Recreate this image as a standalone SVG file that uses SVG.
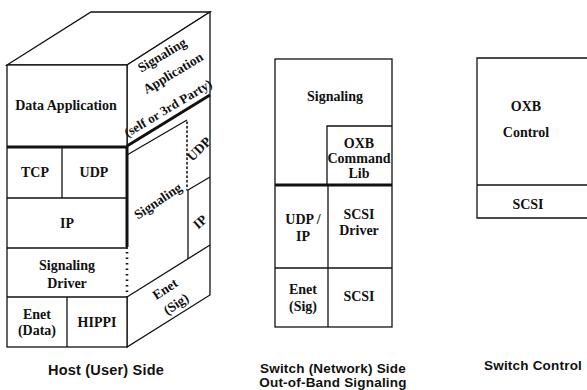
<svg xmlns="http://www.w3.org/2000/svg" width="587" height="390" viewBox="0 0 587 390">
<style>
.ln{fill:none;stroke:#111;stroke-width:1.3;stroke-linejoin:miter}
.bx{fill:#fff;stroke:#111;stroke-width:1.3}
.th{fill:none;stroke:#111;stroke-width:3}
.dt{fill:none;stroke:#111;stroke-width:1.6;stroke-dasharray:1.5 3;stroke-linecap:round}
.dt2{fill:none;stroke:#111;stroke-width:2.6;stroke-dasharray:1.5 4;stroke-linecap:butt}
.t{font-family:"Liberation Serif","Times New Roman",serif;font-weight:bold;font-size:14px;fill:#111;text-anchor:middle}
.r{font-size:13.5px}
.cap{font-family:"Liberation Sans",Arial,sans-serif;font-weight:bold;font-size:13.5px;fill:#111;text-anchor:middle;letter-spacing:0.2px}
</style>
<rect width="587" height="390" fill="#fff"/>

<g id="host">
  <polygon class="bx" points="7,65 91,12 210,12 127,65"/>
  <polygon class="bx" points="127,65 210,12 210,295 127,347"/>
  <rect class="bx" x="7" y="65" width="120" height="282"/>
  <line class="th" x1="7" y1="147" x2="127" y2="147"/>
  <line class="ln" x1="7" y1="198" x2="127" y2="198"/>
  <line class="ln" x1="7" y1="248" x2="127" y2="248"/>
  <line class="ln" x1="7" y1="297" x2="127" y2="297"/>
  <line class="ln" x1="62" y1="147" x2="62" y2="198"/>
  <line class="ln" x1="67" y1="297" x2="67" y2="347"/>
  <line class="th" x1="127" y1="147" x2="127" y2="247"/>
  <line x1="127" y1="249" x2="127" y2="296" style="fill:none;stroke:#fff;stroke-width:2"/>
  <line class="dt2" x1="127" y1="252" x2="127" y2="296"/>
  <line class="th" x1="127" y1="146" x2="210" y2="95"/>
  <line class="ln" x1="127" y1="155" x2="187" y2="120"/>
  <line class="dt" x1="187" y1="122" x2="187" y2="190"/>
  <line class="ln" x1="188" y1="190" x2="210" y2="177"/>
  <line class="ln" x1="188" y1="190" x2="188" y2="259"/>
  <line class="ln" x1="127" y1="297" x2="210" y2="245"/>

  <text class="t" x="66" y="110">Data Application</text>
  <text class="t" x="35" y="177">TCP</text>
  <text class="t" x="94" y="177">UDP</text>
  <text class="t" x="67" y="228">IP</text>
  <text class="t" x="67" y="270">Signaling</text>
  <text class="t" x="67" y="288">Driver</text>
  <text class="t" x="37" y="319">Enet</text>
  <text class="t" x="37" y="335">(Data)</text>
  <text class="t" x="97" y="327">HIPPI</text>

  <text class="t r" transform="translate(162,55) rotate(-31)" y="4.5">Signaling</text>
  <text class="t r" transform="translate(173,73) rotate(-31)" y="4.5">Application</text>
  <text class="t" style="font-size:13px" transform="translate(168,108) rotate(-31)" y="4.5">(self or 3rd Party)</text>
  <text class="t r" transform="translate(158,201) rotate(-34)" y="4.5">Signaling</text>
  <text class="t r" transform="translate(199,149) rotate(-45)" y="4.5">UDP</text>
  <text class="t r" transform="translate(200,222) rotate(-42)" y="4.5">IP</text>
  <text class="t r" transform="translate(165,289) rotate(-33)" y="4.5">Enet</text>
  <text class="t r" transform="translate(176,304) rotate(-33)" y="4.5">(Sig)</text>
  <text class="cap" x="106" y="375" style="font-size:14.5px">Host (User) Side</text>
</g>

<g id="switch-network">
  <rect class="bx" x="275" y="59" width="117" height="268"/>
  <polyline class="ln" points="327,185 327,126 392,126"/>
  <line class="th" x1="275" y1="185" x2="392" y2="185"/>
  <line class="ln" x1="328" y1="185" x2="328" y2="327"/>
  <line class="ln" x1="275" y1="268" x2="392" y2="268"/>
  <text class="t" x="335" y="101">Signaling</text>
  <text class="t" x="359" y="148">OXB</text>
  <text class="t" x="359" y="163">Command</text>
  <text class="t" x="359" y="178">Lib</text>
  <text class="t" x="303" y="224">UDP /</text>
  <text class="t" x="303" y="241">IP</text>
  <text class="t" x="359" y="219">SCSI</text>
  <text class="t" x="359" y="235">Driver</text>
  <text class="t" x="303" y="294">Enet</text>
  <text class="t" x="303" y="311">(Sig)</text>
  <text class="t" x="359" y="301">SCSI</text>
  <text class="cap" x="333" y="373">Switch (Network) Side</text>
  <text class="cap" x="333" y="387">Out-of-Band Signaling</text>
</g>

<g id="switch-control">
  <polyline class="ln" points="590,58 477,58 477,218 590,218"/>
  <line class="ln" x1="477" y1="185" x2="590" y2="185"/>
  <text class="t" x="526" y="111">OXB</text>
  <text class="t" x="526" y="137">Control</text>
  <text class="t" x="528" y="209">SCSI</text>
  <text class="cap" x="484" y="370" style="text-anchor:start">Switch Control</text>
</g>

<g id="connectors"></g>
</svg>
